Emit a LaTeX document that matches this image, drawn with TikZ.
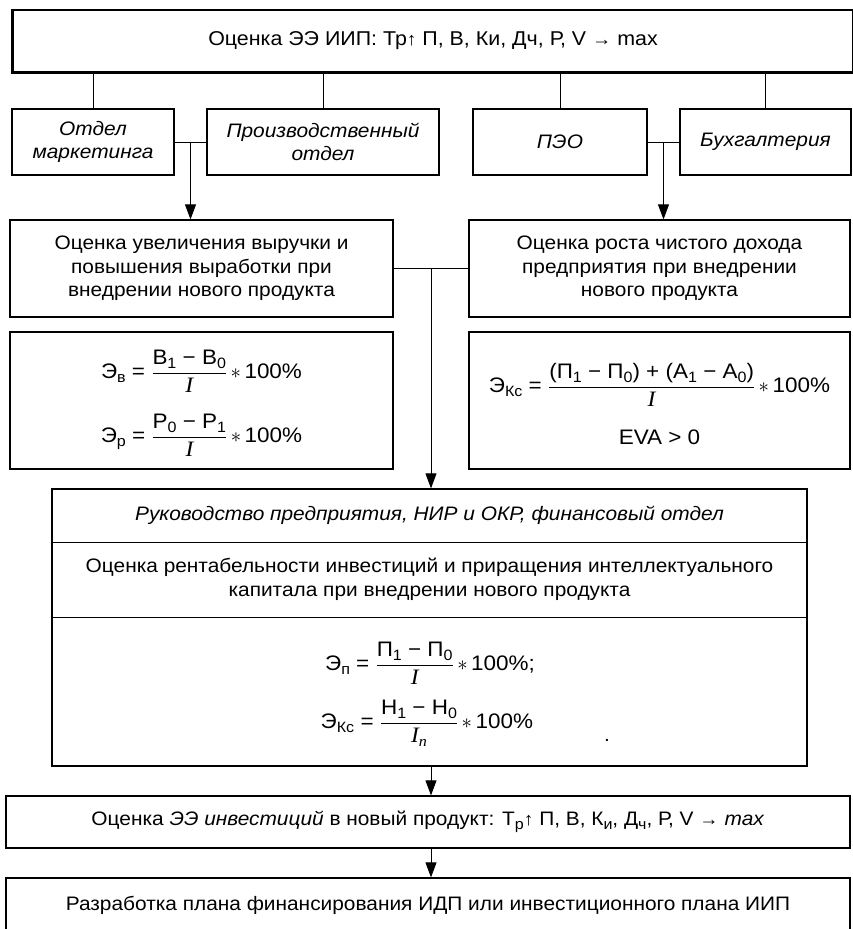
\documentclass[tikz,border=0pt]{standalone}
\usepackage{fontspec}
\setmainfont{Liberation Sans}[FakeStretch=1.07]
\newfontfamily\serifit{Liberation Serif}[FakeStretch=1.07]
\usetikzlibrary{arrows.meta,calc}

% fraction built from text pieces
\newcommand\frc[2]{$\displaystyle\frac{\mbox{#1}}{\mbox{#2}}$}
\newcommand\II{{\serifit\itshape\fontsize{22}{22}\selectfont I}}
\newcommand\sub[1]{\raisebox{-4pt}{\fontsize{15}{15}\selectfont#1}}
\newcommand\mult{\,$\ast$\,}
\newcommand\up{{\fontsize{18}{18}\selectfont↑}}
\newcommand\goes{{\fontsize{18}{18}\selectfont→}}

\begin{document}
\begin{tikzpicture}[x=1pt,y=-1pt,
  txt/.style={inner sep=0pt, align=center, font=\fontsize{19.5}{23.5}\selectfont},
  formula/.style={inner sep=0pt, font=\fontsize{21}{24}\selectfont},
  box/.style={txt, draw, line width=1.2pt},
  ibox/.style={box, font=\fontsize{19.5}{23.5}\selectfont\itshape},
  link/.style={line width=0.9pt},
  arr/.style={link, -{Triangle[length=15pt,width=11pt]}},
]
\useasboundingbox[fill=white] (0,0) rectangle (852,929);

% head box with heavy left and bottom edges
\node[box, minimum width=840pt, minimum height=62pt, font=\fontsize{20}{24}\selectfont] (top) at (433,41)
  {Оценка ЭЭ ИИП: Тр\up\ П, В, Ки, Дч, Р, V \goes\ max};
\draw[line width=3.5pt] (top.north west) -- (top.south west) -- (top.south east);

% departments
\node[ibox, minimum width=162pt, minimum height=66pt] (mkt) at (93,142) {Отдел\\маркетинга};
\node[ibox, minimum width=232pt, minimum height=66pt] (prod) at (323,142) {Производственный\\отдел};
\node[ibox, minimum width=174pt, minimum height=66pt] (peo) at (560,142) {ПЭО};
\node[ibox, minimum width=171pt, minimum height=66pt] (acc) at (765.5,142) {Бухгалтерия};

\foreach \n in {mkt,prod,peo,acc} \draw[link] (top.south -| \n.north) -- (\n.north);

% evaluation boxes
\node[box, minimum width=383pt, minimum height=97pt] (rev) at (201.5,268.5)
  {Оценка увеличения выручки и\\повышения выработки при\\внедрении нового продукта};
\node[box, minimum width=381pt, minimum height=97pt] (inc) at (659.5,268.5)
  {Оценка роста чистого дохода\\предприятия при внедрении\\нового продукта};

\draw[link] (mkt.east) -- (prod.west);
\coordinate (j1) at ($(mkt.east)!0.5!(prod.west)$);
\draw[arr] (j1) -- (j1 |- rev.north);
\draw[link] (peo.east) -- (acc.west);
\coordinate (j2) at ($(peo.east)!0.5!(acc.west)$);
\draw[arr] (j2) -- (j2 |- inc.north);

% formula boxes
\node[box, minimum width=383pt, minimum height=137pt] (frev) at (201.5,400.5) {};
\node[formula] (fv) at (201.5,371) {Э\sub{в} = \frc{В\sub{1} − В\sub{0}}{\II}\mult100\%};
\node[formula] (fr) at (201.5,435) {Э\sub{р} = \frc{Р\sub{0} − Р\sub{1}}{\II}\mult100\%};

\node[box, minimum width=381pt, minimum height=137pt] (finc) at (659.5,400.5) {};
\node[formula] (fk) at (659.5,385) {Э\sub{Кс} = \frc{(П\sub{1} − П\sub{0}) + (А\sub{1} − А\sub{0})}{\II}\mult100\%};
\node[formula] (eva) at (659.5,437) {EVA > 0};

% management block
\node[box, minimum width=755pt, minimum height=277pt] (mgmt) at (429.5,627.5) {};
\draw[link] (mgmt.west |- 0,542) -- (mgmt.east |- 0,542);
\draw[link] (mgmt.west |- 0,617) -- (mgmt.east |- 0,617);
\node[txt, font=\fontsize{19.5}{23.5}\selectfont\itshape] (who) at (429.5,515.5)
  {Руководство предприятия, НИР и ОКР, финансовый отдел};
\node[txt] (what) at (429.5,579.5)
  {Оценка рентабельности инвестиций и приращения интеллектуального\\капитала при внедрении нового продукта};
\node[formula] (fp) at (430,663) {Э\sub{п} = \frc{П\sub{1} − П\sub{0}}{\II}\mult100\%;};
\node[formula] (fn) at (430,723) {Э\sub{Кс} = \frc{Н\sub{1} − Н\sub{0}}{\II\sub{\serifit\itshape n}}\mult100\%\phantom{;}};
\node[txt] (dot) at (607,740) {.};

\draw[link] (rev.east) -- (inc.west);
\coordinate (j3) at ($(rev.east)!0.5!(inc.west)$);
\draw[arr] (j3) -- (j3 |- mgmt.north);

% result boxes
\node[box, minimum width=844pt, minimum height=52pt] (eff) at (428,822)
  {Оценка \textit{ЭЭ инвестиций} в новый продукт: Т\sub{р}\up\ П, В, К\sub{и}, Д\sub{ч}, Р, V \goes\ \textit{max}};
\node[box, minimum width=844pt, minimum height=54pt] (plan) at (428,905)
  {Разработка плана финансирования ИДП или инвестиционного плана ИИП};

\draw[arr] (j3 |- mgmt.south) -- (j3 |- eff.north);
\draw[arr] (j3 |- eff.south) -- (j3 |- plan.north);
\end{tikzpicture}
\end{document}
